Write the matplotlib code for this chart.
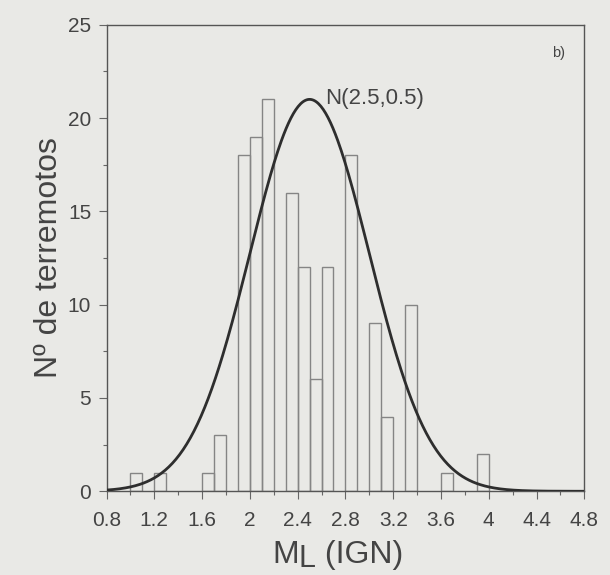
import numpy as np
import matplotlib.pyplot as plt
from matplotlib.ticker import MultipleLocator

plt.rcParams["font.family"] = ["Liberation Sans", "DejaVu Sans"]

# histograma de magnitudes (borde izquierdo de cada clase, ancho 0.1)
bin_left = [1.0, 1.2, 1.6, 1.7, 1.9, 2.0, 2.1, 2.3, 2.4, 2.5, 2.6, 2.8,
            3.0, 3.1, 3.3, 3.6, 3.9]
counts = [1, 1, 1, 3, 18, 19, 21, 16, 12, 6, 12, 18, 9, 4, 10, 1, 2]
bin_width = 0.1

# curva normal N(2.5, 0.5)
mu = 2.5
sigma = 0.5
peak = 21

xticks = [0.8, 1.2, 1.6, 2.0, 2.4, 2.8, 3.2, 3.6, 4.0, 4.4, 4.8]
xtick_labels = ["0.8", "1.2", "1.6", "2", "2.4", "2.8", "3.2", "3.6", "4", "4.4", "4.8"]
yticks = [0, 5, 10, 15, 20, 25]

bg = "#e9e9e6"
txt = "#444444"

fig = plt.figure(figsize=(6.1, 5.75), dpi=100, facecolor=bg)
ax = fig.add_axes([0.1746, 0.1456, 0.958 - 0.1746, 0.957 - 0.1456], facecolor=bg)

ax.bar(bin_left, counts, width=bin_width, align="edge",
       facecolor="none", edgecolor="#858585", linewidth=1.0, zorder=2)

xs = np.linspace(0.8, 4.8, 400)
ys = peak * np.exp(-0.5 * ((xs - mu) / sigma) ** 2)
ax.plot(xs, ys, color="#2e2e2e", linewidth=2.0, zorder=3)

ax.text(2.63, 21.05, "N(2.5,0.5)", fontsize=16, color=txt, ha="left", va="center")
ax.text(4.585, 23.5, "b)", fontsize=10.5, color=txt, ha="center", va="center")

ax.set_xlim(0.8, 4.8)
ax.set_ylim(0, 25)
ax.set_xticks(xticks)
ax.set_xticklabels(xtick_labels)
ax.set_yticks(yticks)
ax.xaxis.set_minor_locator(MultipleLocator(0.2))
ax.yaxis.set_minor_locator(MultipleLocator(2.5))

ax.tick_params(axis="both", which="major", direction="out", length=6,
               width=0.8, color="#666666", labelsize=15, labelcolor=txt)
ax.tick_params(axis="x", which="major", pad=8)
ax.tick_params(axis="y", which="major", pad=5)
ax.tick_params(axis="both", which="minor", direction="out", length=3,
               width=0.8, color="#666666")

for s in ax.spines.values():
    s.set_color("#555555")
    s.set_linewidth(1.0)

ax.set_ylabel("Nº de terremotos", fontsize=23, color=txt, labelpad=3)

# etiqueta del eje x: M con L como subíndice grande
t_m = fig.text(0.446, 0.009, "M", fontsize=23, color=txt, ha="left", va="bottom")
t_l = ax.annotate("L", xy=(1, 0), xycoords=t_m, xytext=(0, -3),
                  textcoords="offset points", fontsize=22, color=txt,
                  ha="left", va="bottom")
ax.annotate(" (IGN)", xy=(1, 0), xycoords=t_l, xytext=(0, 3),
            textcoords="offset points", fontsize=23, color=txt,
            ha="left", va="bottom")

fig.savefig("out.png", dpi=100, facecolor=bg)
